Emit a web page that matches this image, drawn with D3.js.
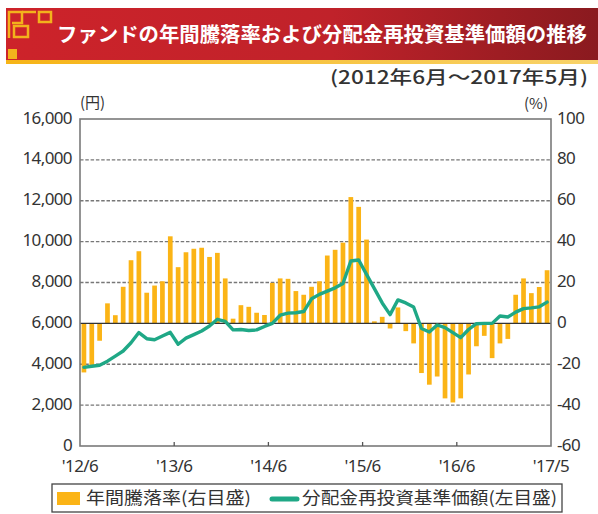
<!DOCTYPE html>
<html>
<head>
<meta charset="utf-8">
<script src="https://cdn.jsdelivr.net/npm/d3@7"></script>
<style>
  body { margin: 0; background: #fff; }
  text { font-family: "Noto Sans", "Noto Sans CJK JP", sans-serif; fill: #333; }
  .jp { font-family: "Noto Sans CJK JP", sans-serif; }
</style>
</head>
<body>
<div id="chart"></div>
<script>
// 年間騰落率 (%), 2012/6 .. 2017/5, one per month
const rates = [
  -24, -20.5, -8.5, 9.8, 4, 17.9, 30.9, 35.3, 15, 18.5,
  20.6, 42.6, 27.5, 34.8, 36.5, 37, 32.5, 34.5, 22, 2.3,
  8.9, 8.1, 5.2, 4.1, 19.8, 22, 21.8, 15.8, 14, 17.9,
  20.6, 33.2, 36, 39.5, 61.8, 57, 41, 1, 3.2, -2.5,
  7.8, -3.8, -9.8, -24.3, -30, -26, -36.7, -38.7, -36.7, -25,
  -11.2, -6.1, -17, -9.8, -7.6, 14, 22, 14.8, 17.8, 26
]
// 分配金再投資基準価額 (円)
const nav = [
  3850, 3900, 3950, 4150, 4400, 4650, 5050, 5550, 5250, 5200,
  5380, 5560, 4980, 5280, 5450, 5630, 5870, 6200, 6100, 5680,
  5700, 5650, 5680, 5850, 6000, 6400, 6500, 6520, 6580, 7200,
  7420, 7580, 7740, 7950, 9050, 9100, 8400, 7700, 7000, 6430,
  7150, 7000, 6800, 5750, 5580, 5920, 5790, 5545, 5300, 5700,
  5985, 6000, 6000, 6360, 6310, 6550, 6720, 6760, 6810, 7040
]
const xTickPos = [0, 12, 24, 36, 48, 60]
const xTickLabels = ["'12/6", "'13/6", "'14/6", "'15/6", "'16/6", "'17/5"]
const leftTicks = [0, 2000, 4000, 6000, 8000, 10000, 12000, 14000, 16000]
const rightTicks = [-60, -40, -20, 0, 20, 40, 60, 80, 100]

const W = 598, H = 514
const plot = {left: 80, right: 551, top: 119, bottom: 446}

const svg = d3.select('#chart').append('svg')
    .attr('width', W)
    .attr('height', H)

// title bar
let defs = svg.append('defs')
let grad = defs.append('linearGradient').attr('id', 'titleGrad')
grad.append('stop').attr('offset', '0%').attr('stop-color', '#cd232a')
grad.append('stop').attr('offset', '55%').attr('stop-color', '#c0222a')
grad.append('stop').attr('offset', '100%').attr('stop-color', '#8a1a1f')
let gold = defs.append('linearGradient').attr('id', 'goldGrad')
gold.append('stop').attr('offset', '0%').attr('stop-color', '#f6b417')
gold.append('stop').attr('offset', '100%').attr('stop-color', '#f8d36a')

svg.append('rect').attr('x', 6).attr('y', 8).attr('width', 592).attr('height', 54)
    .attr('fill', 'url(#titleGrad)')
svg.append('rect').attr('x', 6).attr('y', 60).attr('width', 592).attr('height', 4)
    .attr('fill', 'url(#goldGrad)')

// ornament
let orn = svg.append('g').attr('fill', 'none').attr('stroke', '#f3b21c').attr('stroke-width', 2.5)
orn.append('path').attr('d', 'M9,38 V12 H22 V23 H12')
orn.append('path').attr('d', 'M14,26 H28 V37 H14 Z')
orn.append('path').attr('d', 'M39,12 H51 V22 H39 Z')
orn.append('path').attr('d', 'M22,12 H36')
svg.append('rect').attr('x', 8).attr('y', 49).attr('width', 9).attr('height', 10).attr('fill', '#f3b21c')

svg.append('text').attr('class', 'jp')
    .attr('x', 57).attr('y', 37)
    .attr('dominant-baseline', 'middle')
    .attr('textLength', 530).attr('lengthAdjust', 'spacingAndGlyphs')
    .style('font-size', '20px').style('font-weight', 'bold').style('fill', '#fff')
    .text('ファンドの年間騰落率および分配金再投資基準価額の推移')

svg.append('text').attr('class', 'jp')
    .attr('x', 330).attr('y', 79)
    .attr('dominant-baseline', 'middle')
    .attr('textLength', 258).attr('lengthAdjust', 'spacingAndGlyphs')
    .style('font-size', '18px').style('font-weight', '500')
    .text('(2012年6月～2017年5月)')

svg.append('text').attr('class', 'jp').attr('x', 80).attr('y', 104)
    .attr('dominant-baseline', 'middle').style('font-size', '15px').text('(円)')
svg.append('text').attr('class', 'jp').attr('x', 548).attr('y', 105)
    .attr('text-anchor', 'end').attr('dominant-baseline', 'middle').style('font-size', '15px').text('(%)')

// scales
let x = d3.scaleLinear().domain([0, 60]).range([plot.left, plot.right])
let yL = d3.scaleLinear().domain([0, 16000]).range([plot.bottom, plot.top])
let yR = d3.scaleLinear().domain([-60, 100]).range([plot.bottom, plot.top])

// grid lines
svg.append('g').selectAll('line')
    .data(leftTicks.filter(d => d != 0 && d != 6000 && d != 16000))
    .join('line')
    .attr('x1', plot.left).attr('x2', plot.right)
    .attr('y1', d => yL(d)).attr('y2', d => yL(d))
    .attr('stroke', '#777').attr('stroke-width', 1.3)
    .attr('stroke-dasharray', '3.5,1.8')

// bars
let bw = 4.7
svg.append('g').selectAll('rect')
    .data(rates)
    .join('rect')
    .attr('x', (d, i) => x(i + 0.5) - bw / 2)
    .attr('width', bw)
    .attr('y', d => Math.min(yR(d), yR(0)))
    .attr('height', d => Math.abs(yR(d) - yR(0)))
    .attr('fill', '#fbb416')

// zero line
svg.append('line')
    .attr('x1', plot.left).attr('x2', plot.right)
    .attr('y1', yR(0)).attr('y2', yR(0))
    .attr('stroke', '#333').attr('stroke-width', 1.3)

// frame
svg.append('rect')
    .attr('x', plot.left).attr('y', plot.top)
    .attr('width', plot.right - plot.left).attr('height', plot.bottom - plot.top)
    .attr('fill', 'none').attr('stroke', '#7a7a7a').attr('stroke-width', 1.6)

// x ticks
svg.append('g').selectAll('line')
    .data(xTickPos.slice(1, -1))
    .join('line')
    .attr('x1', d => x(d)).attr('x2', d => x(d))
    .attr('y1', plot.bottom).attr('y2', plot.bottom - 4)
    .attr('stroke', '#555').attr('stroke-width', 1.3)

// NAV line
svg.append('path')
    .datum(nav)
    .attr('fill', 'none')
    .attr('stroke', '#1fa886')
    .attr('stroke-width', 3.4)
    .attr('stroke-linejoin', 'round')
    .attr('stroke-linecap', 'round')
    .attr('d', d3.line().x((d, i) => x(i + 0.5)).y(d => yL(d)))

// axis labels
svg.append('g').selectAll('text')
    .data(leftTicks)
    .join('text')
    .attr('x', 72).attr('y', d => yL(d))
    .attr('text-anchor', 'end').attr('dominant-baseline', 'middle')
    .style('font-size', '17px').style('letter-spacing', '-0.6px')
    .text(d => d3.format(',')(d))

svg.append('g').selectAll('text')
    .data(rightTicks)
    .join('text')
    .attr('x', 557).attr('y', d => yR(d))
    .attr('dominant-baseline', 'middle')
    .style('font-size', '17px').style('letter-spacing', '-0.6px')
    .text(d => d)

svg.append('g').selectAll('text')
    .data(xTickPos)
    .join('text')
    .attr('x', d => x(d)).attr('y', 467)
    .attr('text-anchor', 'middle').attr('dominant-baseline', 'middle')
    .style('font-size', '17px').style('letter-spacing', '-0.6px')
    .text((d, i) => xTickLabels[i])

// legend
let lg = svg.append('g')
lg.append('rect').attr('x', 52).attr('y', 484).attr('width', 510).attr('height', 28)
    .attr('fill', '#fff').attr('stroke', '#444').attr('stroke-width', 1.3)
lg.append('rect').attr('x', 57).attr('y', 492).attr('width', 23).attr('height', 13).attr('fill', '#fbb416')
lg.append('text').attr('class', 'jp').attr('x', 86).attr('y', 499)
    .attr('dominant-baseline', 'middle').style('font-size', '17px')
    .attr('textLength', 165).attr('lengthAdjust', 'spacingAndGlyphs')
    .text('年間騰落率(右目盛)')
lg.append('line').attr('x1', 272).attr('x2', 297).attr('y1', 499).attr('y2', 499)
    .attr('stroke', '#1fa886').attr('stroke-width', 5).attr('stroke-linecap', 'round')
lg.append('text').attr('class', 'jp').attr('x', 302).attr('y', 499)
    .attr('dominant-baseline', 'middle').style('font-size', '17px')
    .attr('textLength', 255).attr('lengthAdjust', 'spacingAndGlyphs')
    .text('分配金再投資基準価額(左目盛)')
</script>
</body>
</html>
